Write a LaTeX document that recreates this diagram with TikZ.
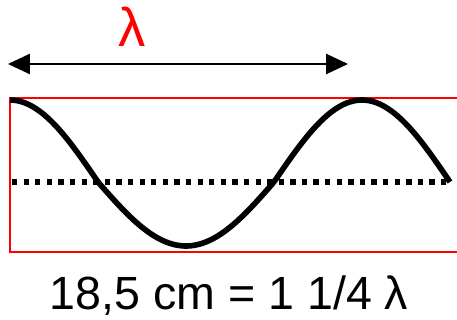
\documentclass[tikz,border=0pt]{standalone}
\usepackage{fontspec}
\setmainfont{Liberation Sans}
\usetikzlibrary{arrows.meta}
\begin{document}
\begin{tikzpicture}[x=0.02cm,y=-0.02cm,very thick]
	\clip (0,0) rectangle (457,320);
	%RED BOX
	\draw[red,line width=0.9pt] (10,98) rectangle (480,252);
	
	%DOTTED MIDDLE LINE
	\draw[line width=3pt,dash pattern=on 3pt off 3.6pt] (12,182)--(450,182);
	
	%WAVE
	\draw[line width=3.2pt] plot[domain=0:450,samples=120] ({10+\x*0.9778},{182-82*max(cos(\x),0)-64*min(cos(\x),0)});
	
	%WAVELENGTH ARROW
	\coordinate (al) at (8,64);
	\coordinate (ar) at (348,64);
	\draw[line width=1.1pt,{Triangle[length=12.5pt,width=11.5pt]}-{Triangle[length=12.5pt,width=11.5pt]}] (al)--(ar);
	\node[red,anchor=base,inner sep=0pt,font=\fontsize{31}{34}\selectfont] (lam) at (132,47) {λ};
	
	%TEXT
	\node[anchor=base,inner sep=0pt,font=\fontsize{26.5}{30}\selectfont] (eq) at (229,310) {18,5 cm = 1 1/4 λ};
\end{tikzpicture}
\end{document}
